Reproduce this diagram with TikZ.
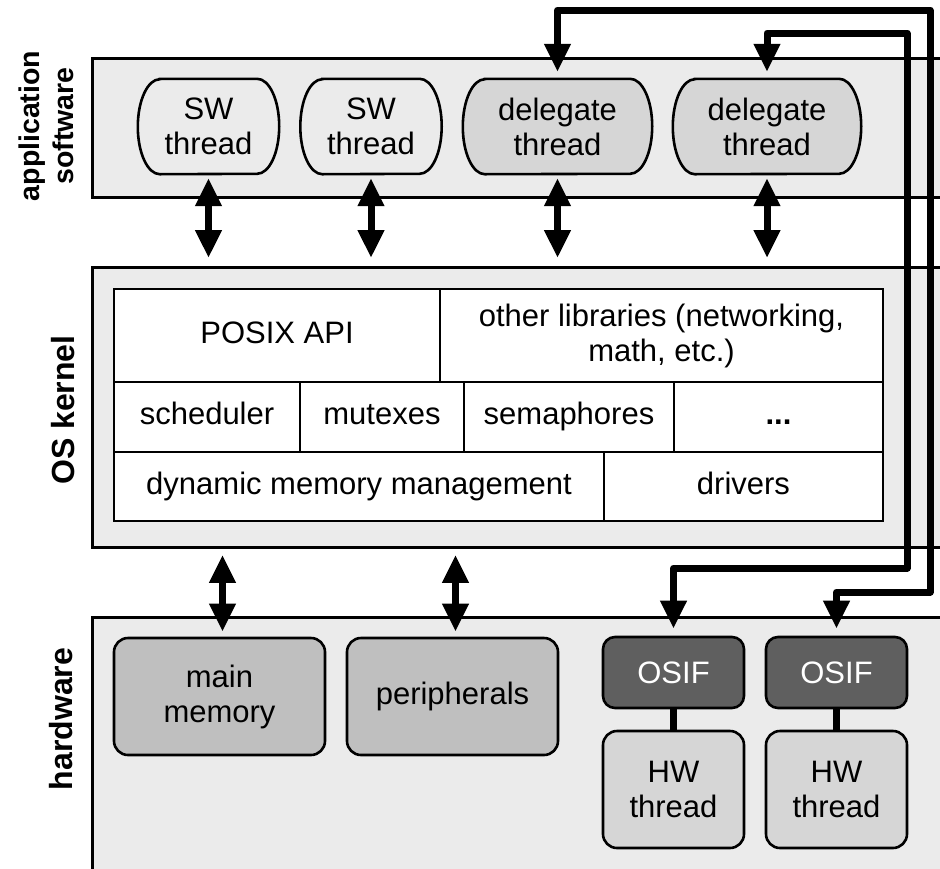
\documentclass[tikz,border=0pt]{standalone}
\usepackage{fontspec}
\setmainfont{Liberation Sans}
\usetikzlibrary{arrows.meta,calc}
\definecolor{layerfill}{HTML}{EBEBEB}
\definecolor{delfill}{HTML}{D6D6D6}
\definecolor{memfill}{HTML}{BFBFBF}
\definecolor{osiffill}{HTML}{5F5F5F}
\pgfdeclarelayer{back}
\pgfdeclarelayer{mid}
\pgfsetlayers{back,mid,main}
\begin{document}
\begin{tikzpicture}[x=1pt,y=-1pt,font=\fontsize{31}{35}\selectfont,
  layer/.style={draw, line width=2.8pt, fill=layerfill, anchor=north west, inner sep=0pt},
  thr/.style={rectangle, minimum height=95pt, align=center, inner sep=0pt},
  throutline/.style={draw, line width=2.6pt},
  cell/.style={draw, line width=2.6pt, fill=white, align=center, inner sep=0pt},
  onecell/.style={cell, text height=23pt, text depth=7.5pt},
  hwbox/.style={draw, rounded corners=14pt, line width=2.6pt, align=center, inner sep=0pt},
  biarrow/.style={line width=7pt, {Triangle[length=28pt,width=25pt]}-{Triangle[length=28pt,width=25pt]}},
  route/.style={biarrow, line join=round},
  lbl/.style={rotate=90, align=center, font=\fontsize{32}{32}\bfseries}
]
\path[use as bounding box] (0,0) rectangle (940,868);
\clip (0,0) rectangle (940,868);

\begin{pgfonlayer}{back}
\fill[white] (0,0) rectangle (940,868);
% layers
\node[layer, minimum width=880pt, minimum height=139pt] (app) at (91,57) {};
\node[layer, minimum width=880pt, minimum height=280pt] (kernel) at (91,266) {};
\node[layer, minimum width=880pt, minimum height=300pt] (hw) at (91,616) {};
\end{pgfonlayer}

% layer labels
\node[lbl, font=\fontsize{28.5}{34}\bfseries] (lapp) at (46,126) {application\\software};
\node[lbl] (lker) at (63,410) {OS kernel};
\node[lbl] (lhw) at (61,719) {hardware};

% application threads (text), outlines drawn on the mid layer
\node[thr, minimum width=141pt] (sw1) at (208.5,126.5) {SW\\thread};
\node[thr, minimum width=141pt] (sw2) at (371,126.5) {SW\\thread};
\node[thr, minimum width=189pt] (del1) at (557.5,126.5) {delegate\\thread};
\node[thr, minimum width=188pt] (del2) at (767,126.5) {delegate\\thread};
\begin{pgfonlayer}{mid}
\foreach \n/\c in {sw1/layerfill, sw2/layerfill, del1/delfill, del2/delfill}{
  \draw[throutline, fill=\c]
    ($(\n.north west)+(22,0)$) -- ($(\n.north east)+(-22,0)$)
    arc[start angle=90, end angle=-90, x radius=22pt, y radius=47.5pt]
    -- ($(\n.south west)+(22,0)$)
    arc[start angle=270, end angle=90, x radius=22pt, y radius=47.5pt]
    -- cycle;
}
\end{pgfonlayer}

% kernel table
\node[onecell, minimum width=326pt, minimum height=93pt] (posix) at (277,335.5) {POSIX API};
\node[cell, minimum width=443pt, minimum height=93pt] (other) at (661.5,335.5) {other libraries (networking,\\math, etc.)};
\node[onecell, minimum width=186pt, minimum height=70pt] (sched) at (207,417) {scheduler};
\node[onecell, minimum width=164pt, minimum height=70pt] (mutex) at (382,417) {mutexes};
\node[onecell, minimum width=210pt, minimum height=70pt] (sema) at (569,417) {semaphores};
\node[onecell, minimum width=209pt, minimum height=70pt] (dots) at (778.5,417) {\textbf{...}};
\node[onecell, minimum width=490pt, minimum height=69pt] (dmm) at (359,486.5) {dynamic memory management};
\node[onecell, minimum width=279pt, minimum height=69pt] (drivers) at (743.5,486.5) {drivers};

% hardware
\node[hwbox, fill=memfill, minimum width=211pt, minimum height=117pt] (mainmem) at (219.5,696.5) {main\\memory};
\node[hwbox, fill=memfill, minimum width=211pt, minimum height=117pt] (periph) at (452.5,696.5) {peripherals};
\node[hwbox, rounded corners=12pt, fill=osiffill, text=white, minimum width=141pt, minimum height=71pt] (osif1) at (673.5,672.5) {OSIF};
\node[hwbox, rounded corners=12pt, fill=osiffill, text=white, minimum width=141pt, minimum height=71pt] (osif2) at (836.5,672.5) {OSIF};
\node[hwbox, fill=delfill, minimum width=141pt, minimum height=117pt] (hw1) at (673.5,789.5) {HW\\thread};
\node[hwbox, fill=delfill, minimum width=141pt, minimum height=117pt] (hw2) at (836.5,789.5) {HW\\thread};

% OSIF to HW thread links
\draw[line width=7pt] (osif1.south) -- (hw1.north);
\draw[line width=7pt] (osif2.south) -- (hw2.north);

% app <-> kernel
\foreach \n in {sw1,sw2,del1,del2}{
  \draw[biarrow, shorten <=4pt, shorten >=8pt] (\n.south) -- (\n.south |- kernel.north);
}
% kernel <-> hardware
\draw[biarrow, shorten <=6pt, shorten >=5pt] ([xshift=3pt]mainmem.north |- kernel.south) -- ([xshift=3pt]mainmem.north);
\draw[biarrow, shorten <=6pt, shorten >=5pt] ([xshift=3pt]periph.north |- kernel.south) -- ([xshift=3pt]periph.north);

% delegate <-> OSIF routes
\coordinate (t1) at (930,10);
\coordinate (b1) at (930,592);
\coordinate (t2) at (907,33);
\coordinate (b2) at (907,568);
\draw[route, shorten <=7pt, shorten >=7pt] (del1.north) |- (t1) -- (b1) -| (osif2.north);
\draw[route, shorten <=7pt, shorten >=7pt] (del2.north) |- (t2) -- (b2) -| (osif1.north);
\end{tikzpicture}
\end{document}
